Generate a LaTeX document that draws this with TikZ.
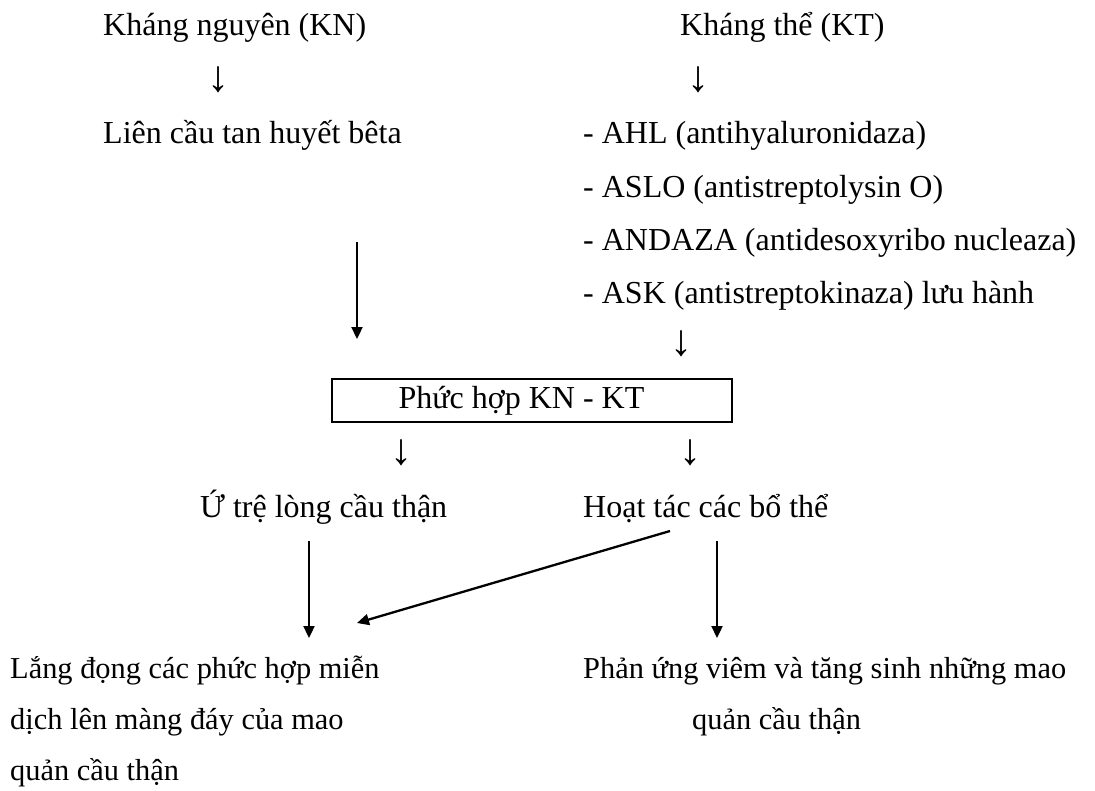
\documentclass[tikz,border=0pt]{standalone}
\usepackage{fontspec}
\setmainfont{Liberation Serif}
\usetikzlibrary{arrows.meta}
\begin{document}
\begin{tikzpicture}[x=1pt,y=-1pt,
  txt/.style={anchor=base west,inner sep=0pt,font=\fontsize{32}{38}\selectfont},
  txtb/.style={anchor=base west,inner sep=0pt,font=\fontsize{30.4}{36}\selectfont},
  dn/.style={anchor=center,inner sep=0pt,font=\fontsize{44}{50}\selectfont},
  conn/.style={line width=2.3pt,-{Triangle[length=12pt,width=11pt]}},
  boxed/.style={draw,line width=1.3pt,minimum width=400pt,minimum height=43pt,inner sep=0pt,font=\fontsize{32}{38}\selectfont}]
\useasboundingbox (0,0) rectangle (1095,790);
% top row
\node[txt] (kn) at (103,35) {Kháng nguyên (KN)};
\node[txt] (kt) at (680,35) {Kháng thể (KT)};
\node[dn] (d1) at (218,79.5) {↓};
\node[dn] (d2) at (698,79.5) {↓};
\node[txt] (lc) at (103,143) {Liên cầu tan huyết bêta};
\node[txt] (ahl) at (583,143) {- AHL (antihyaluronidaza)};
\node[txt] (aslo) at (583,197) {- ASLO (antistreptolysin O)};
\node[txt] (andaza) at (583,250) {- ANDAZA (antidesoxyribo nucleaza)};
\node[txt] (ask) at (583,303) {- ASK (antistreptokinaza) lưu hành};
\node[dn] (d3) at (681,344) {↓};
% box
\node[boxed] (box) at (532,400.5) {Phức hợp KN - KT\hspace*{21pt}};
\node[dn] (d4) at (401,452.5) {↓};
\node[dn] (d5) at (690,452.5) {↓};
\node[txt] (ut) at (200,517) {Ứ trệ lòng cầu thận};
\node[txt] (ht) at (583,517) {Hoạt tác các bổ thể};
% bottom
\node[txtb] (l1) at (10,678) {Lắng đọng các phức hợp miễn};
\node[txtb] (l2) at (10,729) {dịch lên màng đáy của mao};
\node[txtb] (l3) at (10,780) {quản cầu thận};
\node[txtb] (r1) at (583,678) {Phản ứng viêm và tăng sinh những mao};
\node[txtb] (r2) at (692,729) {quản cầu thận};
% connectors
\coordinate (c1s) at (357,242);
\coordinate (c1e) at (357,339);
\coordinate (c2s) at (309,541);
\coordinate (c2e) at (309,638);
\coordinate (c3s) at (717,541);
\coordinate (c3e) at (717,638);
\coordinate (c4s) at (670,531);
\coordinate (c4e) at (357,623);
\draw[conn] (c1s) -- (c1e);
\draw[conn] (c2s) -- (c2e);
\draw[conn] (c3s) -- (c3e);
\draw[conn] (c4s) -- (c4e);
\end{tikzpicture}
\end{document}
